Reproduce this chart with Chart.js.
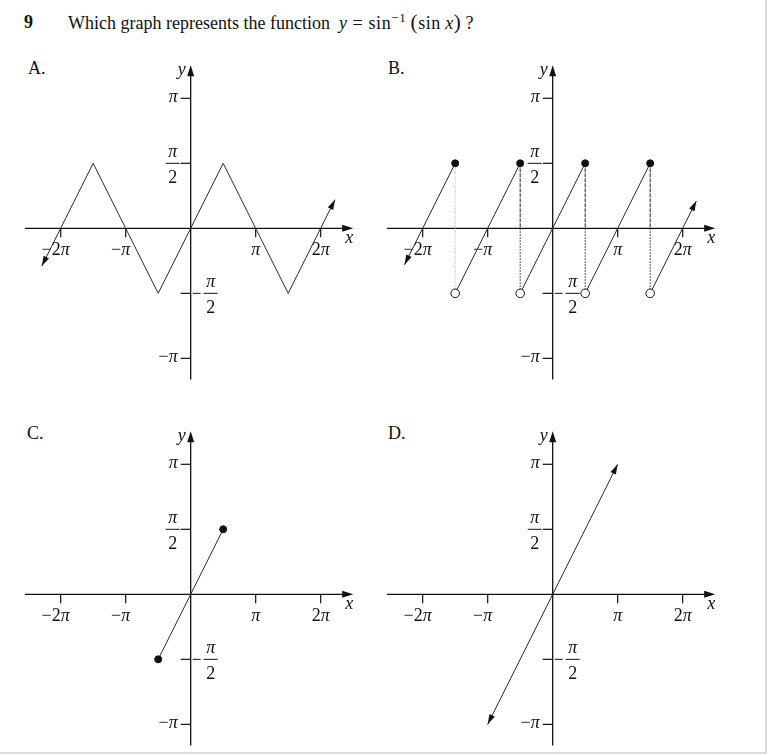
<!DOCTYPE html>
<html>
<head>
<meta charset="utf-8">
<title>y = sin^-1(sin x)</title>
<script src="https://cdn.jsdelivr.net/npm/chart.js@4.4.0/dist/chart.umd.min.js"></script>
<style>
  html, body { margin: 0; padding: 0; background: #fff; }
  #page { position: relative; width: 767px; height: 754px; overflow: hidden;
          font-family: 'Liberation Serif', 'Times New Roman', serif; color: #111; }
  .frame { position: absolute; left: 0; top: 0; width: 765px; height: 752px;
           border-right: 2px solid #dcdcdc; border-bottom: 2px solid #dcdcdc; }
  canvas.panel { position: absolute; }
  .letter { position: absolute; font-size: 18px; line-height: 18px; }
  #num { position: absolute; left: 24px; top: 13px; font-size: 18px; font-weight: bold; line-height: 18px; }
  #question { position: absolute; left: 68px; top: 13px; font-size: 18px; line-height: 18px; white-space: nowrap; }
  #question .f { letter-spacing: 0.6px; }
  #question sup { font-size: 13px; vertical-align: 7px; line-height: 0; }
  #question .par { font-size: 21px; }
</style>
</head>
<body>
<div id="page">
  <div class="frame"></div>
  <div id="num">9</div>
  <div id="question">Which graph represents the function&nbsp; <span class="f"><i>y</i>&nbsp;=&nbsp;sin<sup>−1</sup>&thinsp;<span class="par">(</span>sin&thinsp;<i>x</i><span class="par">)</span>&thinsp;?</span></div>

  <div class="letter" style="left:28px; top:59px;">A.</div>
  <div class="letter" style="left:388px; top:59px;">B.</div>
  <div class="letter" style="left:27px; top:424px;">C.</div>
  <div class="letter" style="left:388px; top:424px;">D.</div>

  <canvas class="panel" id="chartA" width="345" height="330" style="left:20px; top:55px;"></canvas>
  <canvas class="panel" id="chartB" width="345" height="330" style="left:382px; top:55px;"></canvas>
  <canvas class="panel" id="chartC" width="345" height="330" style="left:20px; top:421px;"></canvas>
  <canvas class="panel" id="chartD" width="345" height="330" style="left:382px; top:421px;"></canvas>
</div>

<script>
// all values are in multiples of pi
const xTicks = [-2, -1, 1, 2];
const xTickLabels = ['−2π', '−π', 'π', '2π'];
const yTicks = [1, 0.5, -0.5, -1];
const yTickLabels = ['π', 'π/2', '−π/2', '−π'];

// A: zig-zag
const aX = [-2.29, -1.5, -0.5, 0.5, 1.5, 2.22];
const aY = [-0.29, 0.5, -0.5, 0.5, -0.5, 0.22];

// B: saw-tooth pieces, jumps at odd multiples of pi/2
const bPieceX = [[-2.28, -1.5], [-1.5, -0.5], [-0.5, 0.5], [0.5, 1.5], [1.5, 2.21]];
const bPieceY = [[-0.28, 0.5], [-0.5, 0.5], [-0.5, 0.5], [-0.5, 0.5], [-0.5, 0.21]];
const bJumpX = [-1.5, -0.5, 0.5, 1.5];
const bFilledY = [0.5, 0.5, 0.5, 0.5];
const bOpenY = [-0.5, -0.5, -0.5, -0.5];

// C: restricted segment
const cX = [-0.5, 0.5];
const cY = [-0.5, 0.5];

// D: y = x
const dX = [-1, 1];
const dY = [-1, 1];

// visible window and axis lengths (same for every panel)
const VIEW = { x: [-2.626, 2.682], y: [-1.205, 1.333] };
const AXIS = { x: [-2.55, 2.5], y: [-1.162, 1.255] };

const INK = '#111';
const CURVE = '#2a2a2a';
const FONT = "'Liberation Serif', 'Times New Roman', serif";
const TICK_SIZE = 18;

function pts(xs, ys) {
  return xs.map((x, i) => ({ x: x, y: ys[i] }));
}

function arrowHead(ctx, tx, ty, ang, len, half) {
  const bx = tx - Math.cos(ang) * len, by = ty - Math.sin(ang) * len;
  const nx = -Math.sin(ang) * half, ny = Math.cos(ang) * half;
  ctx.beginPath();
  ctx.moveTo(tx, ty);
  ctx.lineTo(bx + nx, by + ny);
  ctx.lineTo(bx - nx, by - ny);
  ctx.closePath();
  ctx.fill();
}

// text with italic pi / x / y
function mathWidth(ctx, str, size) {
  let w = 0;
  for (const ch of str) {
    ctx.font = (/[πxy]/.test(ch) ? 'italic ' : '') + size + 'px ' + FONT;
    w += ctx.measureText(ch).width;
  }
  return w;
}
function drawMath(ctx, str, x, y, size) {
  for (const ch of str) {
    ctx.font = (/[πxy]/.test(ch) ? 'italic ' : '') + size + 'px ' + FONT;
    ctx.fillText(ch, x, y);
    x += ctx.measureText(ch).width;
  }
}
function drawFraction(ctx, top, bottom, cx, barY, size) {
  const wt = mathWidth(ctx, top, size), wb = mathWidth(ctx, bottom, size);
  drawMath(ctx, top, cx - wt / 2, barY - 6, size);
  drawMath(ctx, bottom, cx - wb / 2, barY + 19.5, size);
  ctx.beginPath();
  ctx.lineWidth = 1;
  ctx.moveTo(cx - 7, barY);
  ctx.lineTo(cx + 7, barY);
  ctx.stroke();
}

const piAxes = {
  id: 'piAxes',
  beforeDatasetsDraw(chart) {
    const ctx = chart.ctx;
    const xs = chart.scales.x, ys = chart.scales.y;
    const ox = xs.getPixelForValue(0), oy = ys.getPixelForValue(0);
    ctx.save();
    ctx.strokeStyle = INK;
    ctx.fillStyle = INK;
    ctx.textBaseline = 'alphabetic';

    // x axis
    const xl = xs.getPixelForValue(AXIS.x[0]), xr = xs.getPixelForValue(AXIS.x[1]);
    ctx.lineWidth = 1.3;
    ctx.beginPath(); ctx.moveTo(xl, oy); ctx.lineTo(xr - 6, oy); ctx.stroke();
    arrowHead(ctx, xr, oy, 0, 11, 3.5);
    // y axis
    const yt = ys.getPixelForValue(AXIS.y[1]), yb = ys.getPixelForValue(AXIS.y[0]);
    ctx.beginPath(); ctx.moveTo(ox, yb); ctx.lineTo(ox, yt + 6); ctx.stroke();
    arrowHead(ctx, ox, yt, -Math.PI / 2, 11, 3.5);

    // axis names
    drawMath(ctx, 'x', xr - 8, oy + 15, 18);
    drawMath(ctx, 'y', ox - 13, yt + 10, 18);

    // x ticks
    xTicks.forEach((v, i) => {
      const px = xs.getPixelForValue(v);
      ctx.lineWidth = 1.2;
      ctx.beginPath(); ctx.moveTo(px, oy); ctx.lineTo(px, oy + 9); ctx.stroke();
      const lab = xTickLabels[i];
      const minusW = lab[0] === '−' ? mathWidth(ctx, '−', TICK_SIZE) : 0;
      const w = mathWidth(ctx, lab, TICK_SIZE);
      drawMath(ctx, lab, px - (w - minusW) / 2 - minusW, oy + 27, TICK_SIZE);
    });

    // y ticks
    yTicks.forEach((v, i) => {
      const py = ys.getPixelForValue(v);
      ctx.lineWidth = 1.2;
      ctx.beginPath(); ctx.moveTo(ox - 10, py); ctx.lineTo(ox, py); ctx.stroke();
      const lab = yTickLabels[i];
      if (lab.includes('/')) {
        const parts = lab.replace('−', '').split('/');
        if (lab[0] === '−') {
          ctx.lineWidth = 1;
          ctx.beginPath(); ctx.moveTo(ox + 2, py); ctx.lineTo(ox + 10, py); ctx.stroke();
          drawFraction(ctx, parts[0], parts[1], ox + 20, py, TICK_SIZE);
        } else {
          drawFraction(ctx, parts[0], parts[1], ox - 18, py, TICK_SIZE);
        }
      } else {
        const w = mathWidth(ctx, lab, TICK_SIZE);
        drawMath(ctx, lab, ox - 13 - w, py + 4, TICK_SIZE);
      }
    });
    ctx.restore();
  },
  afterDatasetsDraw(chart) {
    const ctx = chart.ctx;
    ctx.save();
    ctx.fillStyle = INK;
    chart.data.datasets.forEach((ds, i) => {
      const el = chart.getDatasetMeta(i).data;
      if (ds.arrowStart) {
        const a = el[0], b = el[1];
        arrowHead(ctx, a.x, a.y, Math.atan2(a.y - b.y, a.x - b.x), 10, 3);
      }
      if (ds.arrowEnd) {
        const a = el[el.length - 1], b = el[el.length - 2];
        arrowHead(ctx, a.x, a.y, Math.atan2(a.y - b.y, a.x - b.x), 10, 3);
      }
    });
    ctx.restore();
  }
};

function curve(data, extra) {
  return Object.assign({
    data: data, showLine: true, borderColor: CURVE, borderWidth: 1,
    pointRadius: 0, tension: 0
  }, extra || {});
}
function dots(data, filled) {
  return {
    data: data, showLine: false, pointRadius: filled ? 3.5 : 4.3,
    pointBackgroundColor: filled ? INK : '#fff', pointBorderColor: INK, pointBorderWidth: 1
  };
}

function makePanel(id, datasets) {
  return new Chart(document.getElementById(id), {
    type: 'scatter',
    data: { datasets: datasets },
    options: {
      responsive: false,
      animation: false,
      devicePixelRatio: 1,
      events: [],
      layout: { padding: 0, autoPadding: false },
      plugins: { legend: { display: false }, tooltip: { enabled: false } },
      scales: {
        x: { type: 'linear', min: VIEW.x[0], max: VIEW.x[1], display: false },
        y: { type: 'linear', min: VIEW.y[0], max: VIEW.y[1], display: false }
      }
    },
    plugins: [piAxes]
  });
}

// A
makePanel('chartA', [curve(pts(aX, aY), { arrowStart: true, arrowEnd: true })]);

// B: dots first so they sit on top
const bSets = [dots(pts(bJumpX, bFilledY), true), dots(pts(bJumpX, bOpenY), false)];
bPieceX.forEach((xs, i) => {
  bSets.push(curve(pts(xs, bPieceY[i]), {
    arrowStart: i === 0, arrowEnd: i === bPieceX.length - 1
  }));
});
bJumpX.forEach((x, i) => {
  if (i === 0) {
    bSets.push(curve(pts([x, x], [bFilledY[i], bOpenY[i]]), { borderColor: '#aaa', borderDash: [1, 1.5] }));
  } else {
    bSets.push(curve(pts([x, x], [bFilledY[i], 0]), { borderColor: '#222', borderDash: [4, 1] }));
    bSets.push(curve(pts([x, x], [0, bOpenY[i]]), { borderColor: '#222', borderDash: [1.5, 1.5] }));
  }
});
makePanel('chartB', bSets);

// C
makePanel('chartC', [dots(pts(cX, cY), true), curve(pts(cX, cY))]);

// D
makePanel('chartD', [curve(pts(dX, dY), { arrowStart: true, arrowEnd: true })]);
</script>
</body>
</html>
